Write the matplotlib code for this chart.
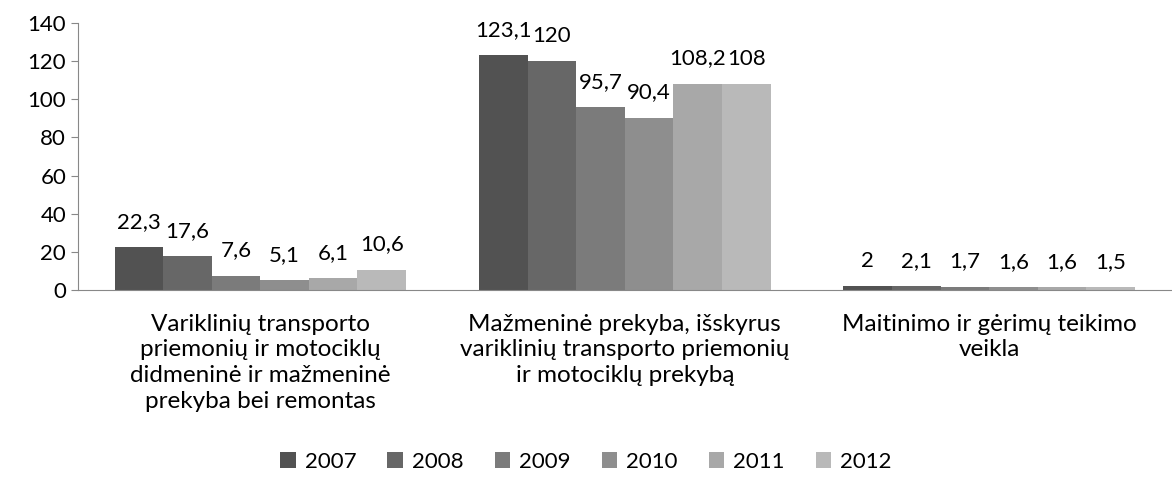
import numpy as np
import matplotlib
matplotlib.use("Agg")
from matplotlib import pyplot as plt

# Data
categories = [
    "Variklinių transporto\npriemonių ir motociklų\ndidmeninė ir mažmeninė\nprekyba bei remontas",
    "Mažmeninė prekyba, išskyrus\nvariklinių transporto priemonių\nir motociklų prekybą",
    "Maitinimo ir gėrimų teikimo\nveikla",
]
years = ["2007", "2008", "2009", "2010", "2011", "2012"]
values_2007 = [22.3, 123.1, 2.0]
values_2008 = [17.6, 120.0, 2.1]
values_2009 = [7.6, 95.7, 1.7]
values_2010 = [5.1, 90.4, 1.6]
values_2011 = [6.1, 108.2, 1.6]
values_2012 = [10.6, 108.0, 1.5]
series = [values_2007, values_2008, values_2009, values_2010, values_2011, values_2012]

colors = ["#525252", "#676767", "#7b7b7b", "#8e8e8e", "#a8a8a8", "#b9b9b9"]

plt.rcParams["font.family"] = ["Lato", "DejaVu Sans"]

fig = plt.figure(figsize=(11.72, 4.87), dpi=100)
ax = fig.add_axes([0.0666, 0.4045, 0.933, 0.5483])

x = np.arange(len(categories))
group_w = 0.8
bar_w = group_w / len(series)

def fmt(v):
    s = f"{v:g}"
    return s.replace(".", ",")

for i, (year, vals) in enumerate(zip(years, series)):
    pos = x - group_w / 2 + bar_w * (i + 0.5)
    bars = ax.bar(pos, vals, width=bar_w, color=colors[i], label=year)
    ax.bar_label(bars, labels=[fmt(v) for v in vals], padding=11, fontsize=16)

ax.set_xlim(-0.5, len(categories) - 0.5)
ax.set_ylim(0, 140)
ax.set_yticks(range(0, 141, 20))
ax.tick_params(axis="y", labelsize=16, length=5, color="#888888", direction="out")
ax.set_xticks(x)
ax.set_xticklabels(categories, fontsize=17.5, linespacing=1.28)
ax.tick_params(axis="x", length=0, pad=17)

for s in ["top", "right"]:
    ax.spines[s].set_visible(False)
ax.spines["left"].set_color("#888888")
ax.spines["bottom"].set_color("#888888")

fig.legend(loc="lower center", bbox_to_anchor=(0.5, -0.01), ncol=6, frameon=False,
           fontsize=16, handlelength=0.7, handleheight=0.7, columnspacing=1.4,
           handletextpad=0.4)

fig.savefig("out.png", dpi=100)
